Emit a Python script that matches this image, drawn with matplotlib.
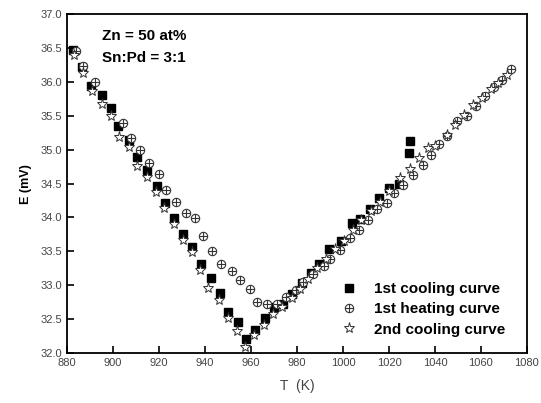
import matplotlib
matplotlib.use('Agg')
import matplotlib.pyplot as plt
from matplotlib.legend_handler import HandlerTuple
import numpy as np

plt.rcParams['font.family'] = ['Liberation Sans', 'DejaVu Sans']

# 1st cooling curve (filled squares)
cool1_T = [882.6, 886.5, 890.4, 895.1, 899.0, 902.3, 907.1, 910.3, 914.6, 919.0,
           922.6, 926.5, 930.4, 934.3, 938.4, 942.5, 946.4, 949.9, 954.3, 957.7,
           961.9, 966.1, 970.0, 973.8, 978.0, 982.3, 986.0, 989.7, 993.9, 999.1,
           1004.0, 1007.5, 1011.7, 1015.7, 1020.1, 1024.2, 1028.7, 1029.1]
cool1_E = [36.47, 36.22, 35.94, 35.80, 35.61, 35.35, 35.14, 34.89, 34.70, 34.47,
           34.22, 33.99, 33.76, 33.56, 33.31, 33.11, 32.88, 32.60, 32.46, 32.20,
           32.34, 32.52, 32.68, 32.73, 32.87, 33.04, 33.18, 33.31, 33.54, 33.66,
           33.92, 33.97, 34.12, 34.28, 34.43, 34.50, 34.95, 35.13]

# 1st heating curve (circle with cross)
heat1_T = [883.8, 887.1, 892.0, 904.2, 907.7, 911.7, 915.8, 920.0, 923.0, 927.3,
           931.6, 935.7, 939.3, 942.9, 947.0, 951.6, 955.2, 959.6, 962.7, 967.1,
           971.4, 975.0, 979.5, 982.7, 986.8, 991.7, 994.3, 998.7, 1003.0, 1007.1,
           1010.7, 1014.8, 1019.0, 1022.3, 1026.0, 1030.3, 1034.7, 1038.3, 1041.9,
           1045.3, 1049.7, 1053.8, 1057.8, 1061.7, 1065.7, 1069.0, 1073.0]
heat1_E = [36.45, 36.24, 36.00, 35.40, 35.17, 34.99, 34.81, 34.64, 34.41, 34.23,
           34.07, 33.99, 33.73, 33.51, 33.32, 33.21, 33.07, 32.94, 32.75, 32.73,
           32.73, 32.83, 32.93, 33.05, 33.16, 33.28, 33.39, 33.52, 33.69, 33.82,
           33.96, 34.12, 34.22, 34.36, 34.48, 34.63, 34.78, 34.92, 35.08,
           35.20, 35.42, 35.50, 35.64, 35.79, 35.92, 36.03, 36.19]

# 2nd cooling curve (open stars)
cool2_T = [883.0, 886.8, 890.7, 895.3, 899.1, 902.6, 907.1, 910.3, 914.6, 918.7,
           922.3, 926.7, 930.4, 934.3, 938.0, 941.4, 946.1, 949.9, 953.8, 957.4,
           961.4, 965.8, 969.5, 973.3, 977.7, 981.3, 984.9, 988.6, 992.5, 996.5,
           1000.5, 1004.2, 1007.7, 1012.3, 1016.1, 1020.0, 1024.8, 1029.1, 1033.2,
           1036.8, 1040.0, 1045.1, 1048.7, 1052.6, 1056.4, 1060.3, 1064.2, 1067.5,
           1071.2]
cool2_E = [36.40, 36.13, 35.86, 35.68, 35.49, 35.19, 35.04, 34.76, 34.59, 34.38,
           34.14, 33.90, 33.67, 33.49, 33.23, 32.96, 32.78, 32.52, 32.32, 32.09,
           32.27, 32.41, 32.57, 32.68, 32.81, 32.95, 33.09, 33.25, 33.39, 33.53,
           33.65, 33.82, 33.96, 34.10, 34.23, 34.39, 34.58, 34.72, 34.87,
           35.02, 35.06, 35.22, 35.36, 35.51, 35.66, 35.76, 35.89, 35.99,
           36.10]

x_ticks = np.arange(880, 1081, 20)
y_ticks = np.arange(32.0, 37.01, 0.5)

fig = plt.figure(figsize=(5.41, 4.03), dpi=100)
ax = fig.add_axes([0.124, 0.124, 0.850, 0.841])

sq, = ax.plot(cool1_T, cool1_E, 's', color='black', markersize=5.5, linestyle='none')
hc, = ax.plot(heat1_T, heat1_E, 'o', markerfacecolor='white', markeredgecolor='#333333',
              markersize=6, markeredgewidth=0.8, linestyle='none')
hp, = ax.plot(heat1_T, heat1_E, '+', color='#333333', markersize=6,
              markeredgewidth=0.8, linestyle='none')
st, = ax.plot(cool2_T, cool2_E, '*', markerfacecolor='white', markeredgecolor='#333333',
              markersize=8, markeredgewidth=0.7, linestyle='none')

ax.set_xlim(880, 1080)
ax.set_ylim(32.0, 37.0)
ax.set_xticks(x_ticks)
ax.set_yticks(y_ticks)
ax.set_yticklabels([f'{v:.1f}' for v in y_ticks])
ax.tick_params(direction='in', length=5, width=1.2, labelsize=8, labelcolor='#444444')
for s in ax.spines.values():
    s.set_linewidth(1.3)

ax.set_xlabel('T  (K)', fontsize=10, color='#444444', labelpad=8)
ax.set_ylabel('E (mV)', fontsize=9, fontweight='bold', labelpad=6)

ax.text(0.076, 0.955, 'Zn = 50 at%', transform=ax.transAxes, fontsize=11,
        fontweight='bold', va='top')
ax.text(0.076, 0.892, 'Sn:Pd = 3:1', transform=ax.transAxes, fontsize=11,
        fontweight='bold', va='top')

leg = ax.legend([sq, (hc, hp), st],
                ['1st cooling curve', '1st heating curve', '2nd cooling curve'],
                handler_map={tuple: HandlerTuple(ndivide=1, pad=0)},
                loc='lower right', bbox_to_anchor=(0.982, 0.008), frameon=False,
                prop={'size': 11, 'weight': 'bold'}, handlelength=1.0,
                handletextpad=1.1, labelspacing=0.4)

fig.savefig('out.png', dpi=100)
